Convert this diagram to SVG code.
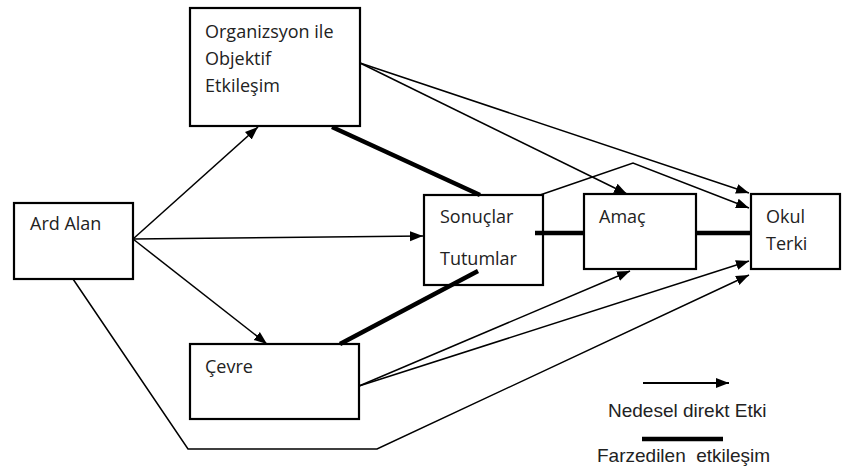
<svg xmlns="http://www.w3.org/2000/svg" width="857" height="472" viewBox="0 0 857 472">
<defs>
<style>
.box{fill:none;stroke:#000;stroke-width:2.2}
.lbl{font-family:"Open Sans","Noto Sans",sans-serif;font-size:18px;fill:#222}
.leg{font-family:"Liberation Sans",Arial,sans-serif;font-size:19px;fill:#222}
.thin{fill:none;stroke:#000;stroke-width:1.5;marker-end:url(#ah)}
.thick{fill:none;stroke:#000;stroke-width:4.5}
</style>
<marker id="ah" markerUnits="userSpaceOnUse" markerWidth="14" markerHeight="12" viewBox="0 0 14 12" refX="13" refY="6" orient="auto">
<path d="M0,1 L13,6 L0,11 Z" fill="#000"/>
</marker>
</defs>
<rect width="857" height="472" fill="#fff"/>
<g id="connectors">
<path class="thin" d="M133,239 L258,127"/>
<path class="thin" d="M133,239 L423,236"/>
<path class="thin" d="M133,239 L267,344"/>
<path class="thin" d="M360,63 L627,194"/>
<path class="thin" d="M360,63 L749,193"/>
<path class="thin" d="M540,195 L633,163 L749,208"/>
<path class="thin" d="M359,386 L630,271"/>
<path class="thin" d="M359,386 L749,261"/>
<path class="thin" d="M73,279 L188,449 L377,449 L749,275"/>
<path class="thick" d="M332,127 L480,195"/>
<path class="thick" d="M535,233 L584,233"/>
<path class="thick" d="M696,233 L751,233"/>
<path class="thick" d="M340,344 L478,271"/>
</g>
<g id="node-org">
<rect class="box" x="190" y="8" width="170" height="118"/>
<text class="lbl" x="205" y="38">Organizsyon ile</text>
<text class="lbl" x="205" y="65">Objektif</text>
<text class="lbl" x="205" y="92">Etkileşim</text>
</g>
<g id="node-ard">
<rect class="box" x="14" y="203" width="119" height="76"/>
<text class="lbl" x="30" y="230">Ard Alan</text>
</g>
<g id="node-sonuclar">
<rect class="box" x="424" y="195" width="119" height="90"/>
<text class="lbl" x="440" y="223">Sonuçlar</text>
<text class="lbl" x="440" y="265">Tutumlar</text>
</g>
<g id="node-amac">
<rect class="box" x="584" y="194" width="112" height="75"/>
<text class="lbl" x="599" y="223">Amaç</text>
</g>
<g id="node-okul">
<rect class="box" x="751" y="194" width="89" height="75"/>
<text class="lbl" x="766" y="223">Okul</text>
<text class="lbl" x="766" y="250">Terki</text>
</g>
<g id="node-cevre">
<rect class="box" x="190" y="344" width="169" height="75"/>
<text class="lbl" x="205" y="373">Çevre</text>
</g>
<g id="legend">
<path class="thin" style="stroke-width:2" d="M643,383 L729,383"/>
<text class="leg" x="608" y="417">Nedesel direkt Etki</text>
<path class="thick" d="M642,439 L723,439"/>
<text class="leg" x="597" y="462" xml:space="preserve">Farzedilen  etkileşim</text>
</g>
</svg>
